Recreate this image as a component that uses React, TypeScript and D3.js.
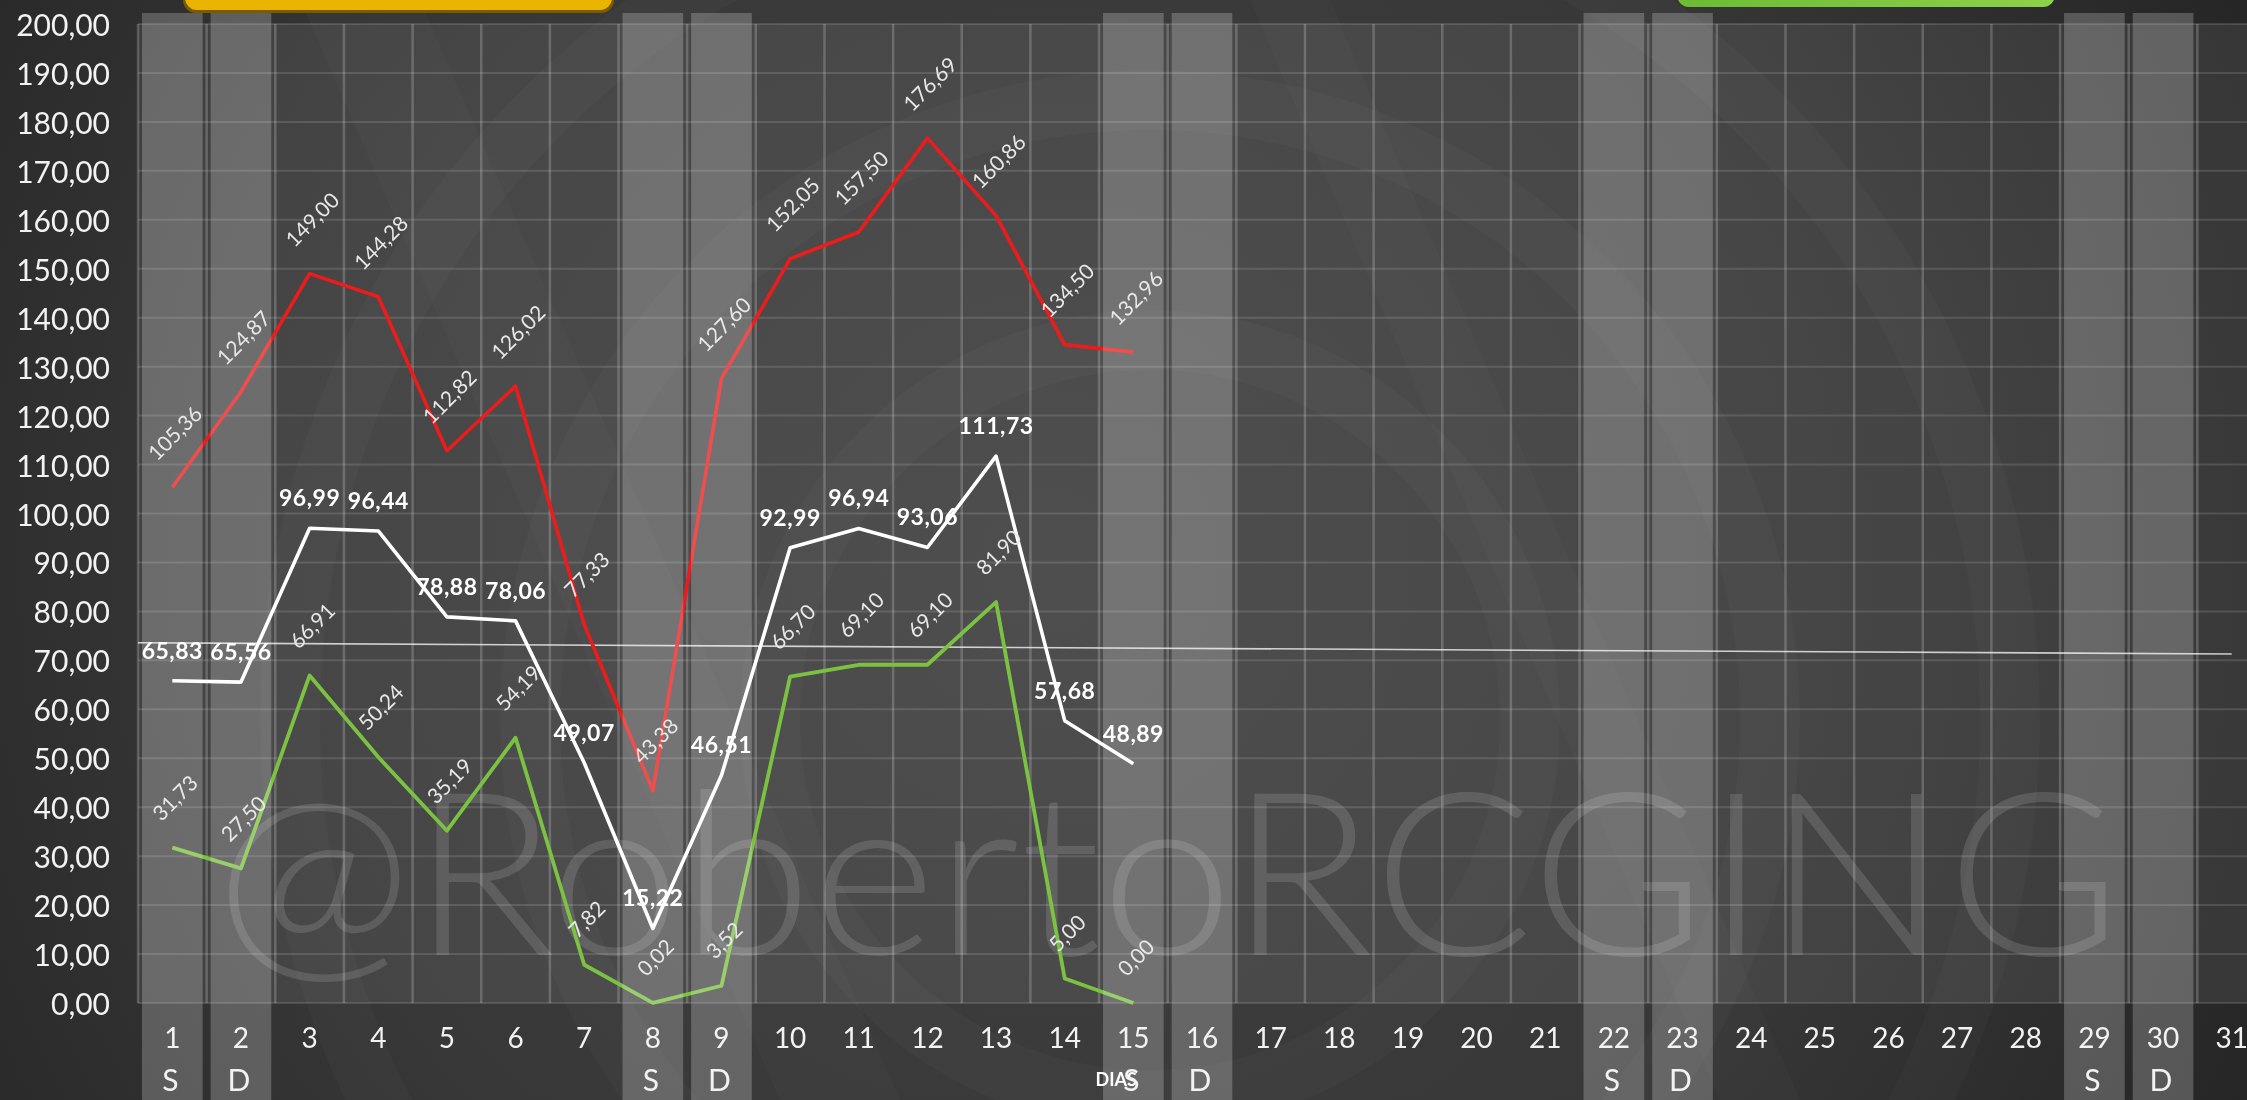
import React from 'react';
import * as d3 from 'd3';

const days = [1, 2, 3, 4, 5, 6, 7, 8, 9, 10, 11, 12, 13, 14, 15, 16, 17, 18, 19, 20, 21, 22, 23, 24, 25, 26, 27, 28, 29, 30, 31];
const maxValues = [105.36, 124.87, 149.0, 144.28, 112.82, 126.02, 77.33, 43.38, 127.6, 152.05, 157.5, 176.69, 160.86, 134.5, 132.96];
const avgValues = [65.83, 65.56, 96.99, 96.44, 78.88, 78.06, 49.07, 15.22, 46.51, 92.99, 96.94, 93.06, 111.73, 57.68, 48.89];
const minValues = [31.73, 27.5, 66.91, 50.24, 35.19, 54.19, 7.82, 0.02, 3.52, 66.7, 69.1, 69.1, 81.9, 5.0, 0.0];
const weekendDays = [1, 2, 8, 9, 15, 16, 22, 23, 29, 30];
const weekendLetters = ['S', 'D', 'S', 'D', 'S', 'D', 'S', 'D', 'S', 'D'];
const yTicks = [0, 10, 20, 30, 40, 50, 60, 70, 80, 90, 100, 110, 120, 130, 140, 150, 160, 170, 180, 190, 200];
const trendDays = [0.5, 31];
const trendValues = [73.6, 71.3];
const axisTitle = 'DIAS';
const watermark = '@RobertoRCGING';

const W = 2247;
const H = 1100;
const FONT = 'Lato, "Open Sans", sans-serif';

const fmt = (v: number) => v.toFixed(2).replace('.', ',');

export default function App() {
  const x = d3.scaleLinear().domain([0.5, 31.5]).range([138, 2266]);
  const y = d3.scaleLinear().domain([0, 200]).range([1003, 24]);
  const band = x(1.5) - x(0.5);

  const line = d3
    .line<number>()
    .x((_, i) => x(days[i]))
    .y((d) => y(d));

  const trendLine = d3
    .line<number>()
    .x((_, i) => x(trendDays[i]))
    .y((d) => y(d));

  const rotFs = 21;
  const rotOffset = (s: string) => {
    const digits = s.replace(/[^0-9]/g, '').length;
    const w = rotFs * (0.58 * digits + 0.25);
    return 26 + (w + rotFs * 0.72) * 0.707 / 2;
  };

  const rotLabels = (vals: number[], key: string) =>
    vals.map((v, i) => {
      const s = fmt(v);
      const cx = x(days[i]) + 2;
      const cy = y(v) - rotOffset(s);
      return (
        <text
          key={key + i}
          transform={`translate(${cx},${cy}) rotate(-45)`}
          textAnchor="middle"
          dominantBaseline="central"
          fontSize={rotFs}
          fill="#e8e8e8"
          fontFamily={FONT}
        >
          {s}
        </text>
      );
    });

  return (
    <svg
      width={W}
      height={H}
      style={{ position: 'fixed', left: 0, top: 0, display: 'block' }}
      fontFamily={FONT}
    >
      <defs>
        <radialGradient id="bg" cx="1050" cy="560" r="1400" gradientUnits="userSpaceOnUse">
          <stop offset="0" stopColor="#404040" />
          <stop offset="0.55" stopColor="#383838" />
          <stop offset="1" stopColor="#232323" />
        </radialGradient>
        <linearGradient id="greenBox" x1="0" x2="1" y1="0" y2="0">
          <stop offset="0" stopColor="#6cbb34" />
          <stop offset="1" stopColor="#8ed14a" />
        </linearGradient>
      </defs>

      {/* background */}
      <rect x={0} y={0} width={W} height={H} fill="url(#bg)" />
      <rect x={x(0.5)} y={y(200)} width={W - x(0.5)} height={y(0) - y(200)} fill="rgba(255,255,255,0.075)" />
      {[380, 620, 860].map((r) => (
        <circle key={r} cx={1150} cy={720} r={r} fill="none" stroke="rgba(255,255,255,0.022)" strokeWidth={60} />
      ))}
      {[
        [300, 0, 420, 0, 900, 1100, 780, 1100],
        [1250, 0, 1330, 0, 1800, 1100, 1720, 1100],
      ].map((p, i) => (
        <polygon
          key={'s' + i}
          points={`${p[0]},${p[1]} ${p[2]},${p[3]} ${p[4]},${p[5]} ${p[6]},${p[7]}`}
          fill="rgba(255,255,255,0.018)"
        />
      ))}

      {/* watermark */}
      <text
        x={215}
        y={955}
        fontSize={228}
        fontWeight={300}
        fill="rgba(255,255,255,0.13)"
        textLength={1906}
        lengthAdjust="spacingAndGlyphs"
      >
        {watermark}
      </text>

      {/* top boxes */}
      <rect x={183} y={-30} width={431} height={43} rx={13} fill="#7a5c00" />
      <rect x={185} y={-30} width={427} height={40} rx={12} fill="#ebb400" />
      <rect x={1677} y={-30} width={378} height={37} rx={12} fill="url(#greenBox)" />

      {/* horizontal grid */}
      {yTicks.map((t) => (
        <line key={'h' + t} x1={x(0.5)} x2={W} y1={y(t)} y2={y(t)} stroke="rgba(255,255,255,0.13)" strokeWidth={2} />
      ))}
      {/* vertical grid */}
      {[0, ...days].map((d) => (
        <line
          key={'v' + d}
          x1={x(d + 0.5)}
          x2={x(d + 0.5)}
          y1={y(200)}
          y2={y(0)}
          stroke="rgba(255,255,255,0.2)"
          strokeWidth={2.5}
        />
      ))}

      {/* trend line */}
      <path d={trendLine(trendValues) || ''} fill="none" stroke="rgba(255,255,255,0.75)" strokeWidth={1.6} />

      {/* series lines */}
      <path d={line(minValues) || ''} fill="none" stroke="#7cc242" strokeWidth={3.8} strokeLinejoin="round" />
      <path d={line(maxValues) || ''} fill="none" stroke="#ec1c1c" strokeWidth={3.6} strokeLinejoin="round" />
      <path d={line(avgValues) || ''} fill="none" stroke="#ffffff" strokeWidth={3.6} strokeLinejoin="round" />

      {/* weekend bars */}
      {weekendDays.map((d) => (
        <rect
          key={'b' + d}
          x={x(d - 0.5) + 4}
          y={13}
          width={band - 8}
          height={H - 13}
          fill="rgba(255,255,255,0.22)"
        />
      ))}

      {/* data labels */}
      {rotLabels(maxValues, 'mx')}
      {rotLabels(minValues, 'mn')}
      {avgValues.map((v, i) => (
        <text
          key={'a' + i}
          x={x(days[i])}
          y={y(v) - 31}
          textAnchor="middle"
          dominantBaseline="central"
          fontSize={23}
          fontWeight={700}
          letterSpacing={0.5}
          fill="#ffffff"
        >
          {fmt(v)}
        </text>
      ))}

      {/* y axis labels */}
      {yTicks.map((t) => (
        <text
          key={'y' + t}
          x={110}
          y={y(t)}
          textAnchor="end"
          dominantBaseline="central"
          fontSize={30}
          fill="#f2f2f2"
        >
          {fmt(t)}
        </text>
      ))}

      {/* x axis labels */}
      {days.map((d) => (
        <text
          key={'x' + d}
          x={x(d)}
          y={1037}
          textAnchor="middle"
          dominantBaseline="central"
          fontSize={28}
          fill="#f2f2f2"
        >
          {d}
        </text>
      ))}

      {/* axis title */}
      <text x={1137} y={1079} textAnchor="end" dominantBaseline="central" fontSize={18} fontWeight={700} fill="#ffffff">
        {axisTitle}
      </text>

      {weekendDays.map((d, i) => (
        <text
          key={'w' + d}
          x={x(d) - 2}
          y={1079}
          textAnchor="middle"
          dominantBaseline="central"
          fontSize={30}
          fill="#f2f2f2"
        >
          {weekendLetters[i]}
        </text>
      ))}
    </svg>
  );
}
